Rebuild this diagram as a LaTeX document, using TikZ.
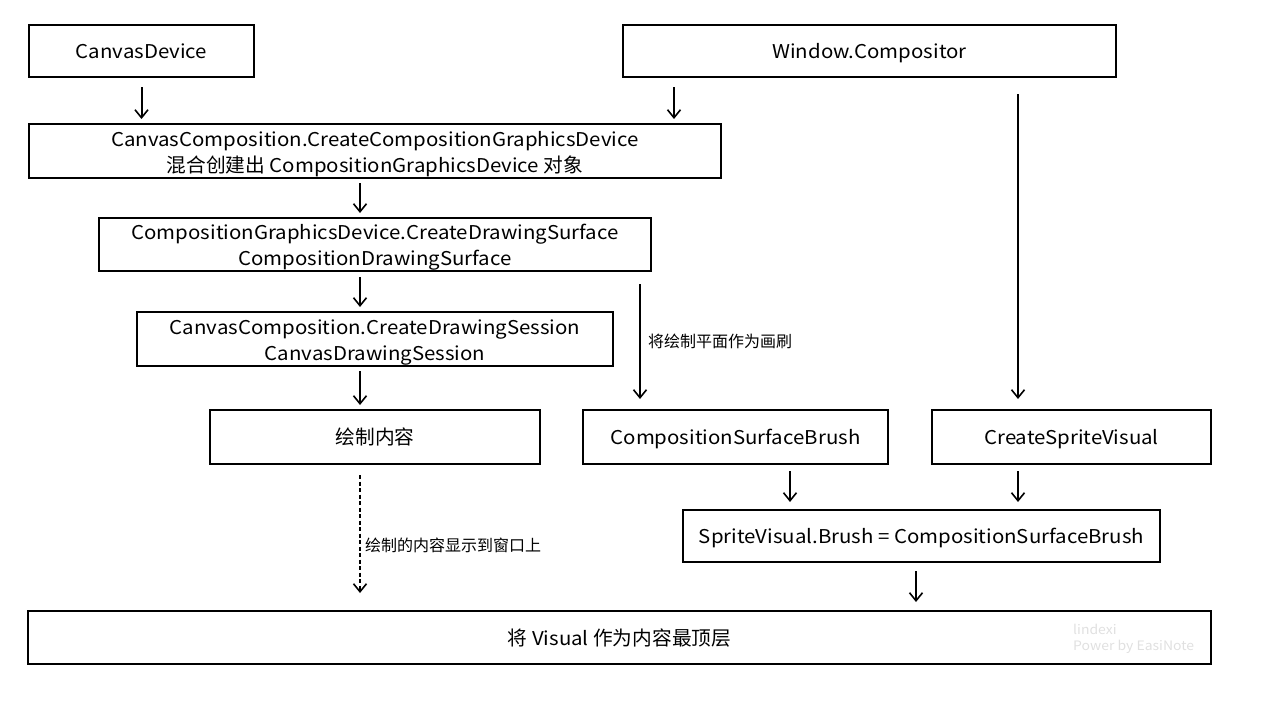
\documentclass[tikz,border=0pt]{standalone}
\usepackage{fontspec}
\setmainfont{Noto Sans CJK SC}[FakeStretch=1.075]
\newfontfamily\cjk{Noto Sans CJK SC}
\newcommand{\zh}[1]{{\cjk\fontsize{19.7}{26}\selectfont #1}}
\usepackage{tikz}
\usetikzlibrary{arrows.meta}

\tikzset{
    box/.style={draw, line width=2pt, align=center, inner sep=0pt,
        text height=15.5pt, text depth=0pt, font=\fontsize{19}{26}\selectfont},
    twoline/.style={box, text height=42pt},
    arr/.style={line width=2pt, -{Straight Barb[length=8pt,width=13pt,line width=1.6pt]}},
    lbl/.style={anchor=west, inner sep=0pt, font=\cjk\fontsize{16}{18}\selectfont},
    wmark/.style={anchor=west, inner sep=0pt, text=black!12, font=\fontsize{13}{18}\selectfont}
}

\begin{document}
\begin{tikzpicture}[x=1pt, y=-1pt]
        \useasboundingbox (0, 0) rectangle (1280, 720);
        % Boxes
        \node [box, minimum width=225pt, minimum height=52pt] (cd) at (141.5, 51) {CanvasDevice};
        \node [box, minimum width=493pt, minimum height=52pt] (wc) at (869.5, 51) {Window.Compositor};
        \node [twoline, minimum width=692pt, minimum height=54pt] (ccgd) at (375, 151) {CanvasComposition.CreateCompositionGraphicsDevice\\\zh{混合创建出} CompositionGraphicsDevice \zh{对象}};
        \node [twoline, minimum width=552pt, minimum height=53pt] (cgd) at (375, 244.5) {CompositionGraphicsDevice.CreateDrawingSurface\\CompositionDrawingSurface};
        \node [twoline, minimum width=476pt, minimum height=54pt] (cds) at (375, 339) {CanvasComposition.CreateDrawingSession\\CanvasDrawingSession};
        \node [box, minimum width=330pt, minimum height=54pt] (draw) at (375, 437) {\zh{绘制内容}};
        \node [box, minimum width=305pt, minimum height=54pt] (csb) at (735.5, 437) {CompositionSurfaceBrush};
        \node [box, minimum width=279pt, minimum height=54pt] (csv) at (1071.5, 437) {CreateSpriteVisual};
        \node [box, minimum width=477pt, minimum height=52pt] (svb) at (921.5, 536) {SpriteVisual.Brush = CompositionSurfaceBrush};
        \node [box, minimum width=1183pt, minimum height=53pt] (top) at (619.5, 637.5) {\zh{将} Visual \zh{作为内容最顶层}};
        % Watermark
        \node [wmark] (who) at (1073, 629) {lindexi};
        \node [wmark] (pow) at (1073, 647) {Power by EasiNote};
        % Arrow columns
        \coordinate (wcout) at (674, 0);
        \coordinate (left) at (360, 0);
        \coordinate (surf) at (640, 0);
        \coordinate (sprite) at (1018, 0);
        \coordinate (brush) at (790, 0);
        \coordinate (vis) at (916, 0);
        % Arrows
        \draw [arr, shorten <=9pt, shorten >=4pt] (cd.south) -- (cd.south |- ccgd.north);
        \draw [arr, shorten <=9pt, shorten >=4pt] (wcout |- wc.south) -- (wcout |- ccgd.north);
        \draw [arr, shorten <=4pt, shorten >=4pt] (left |- ccgd.south) -- (left |- cgd.north);
        \draw [arr, shorten <=5pt, shorten >=4pt] (left |- cgd.south) -- (left |- cds.north);
        \draw [arr, shorten <=4pt, shorten >=4pt] (left |- cds.south) -- (left |- draw.north);
        \draw [arr, dash pattern=on 4pt off 2.5pt, shorten <=10pt, shorten >=17pt] (left |- draw.south) -- (left |- top.north);
        \draw [arr, shorten <=12pt, shorten >=10pt] (surf |- cgd.south) -- (surf |- csb.north);
        \draw [arr, shorten <=16pt, shorten >=10pt] (sprite |- wc.south) -- (sprite |- csv.north);
        \draw [arr, shorten <=6pt, shorten >=7pt] (brush |- csb.south) -- (brush |- svb.north);
        \draw [arr, shorten <=6pt, shorten >=7pt] (sprite |- csv.south) -- (sprite |- svb.north);
        \draw [arr, shorten <=8pt, shorten >=8pt] (vis |- svb.south) -- (vis |- top.north);
        % Labels
        \node [lbl] (paint) at (648, 341) {将绘制平面作为画刷};
        \node [lbl] (show) at (365, 545) {绘制的内容显示到窗口上};
    \end{tikzpicture}
\end{document}
